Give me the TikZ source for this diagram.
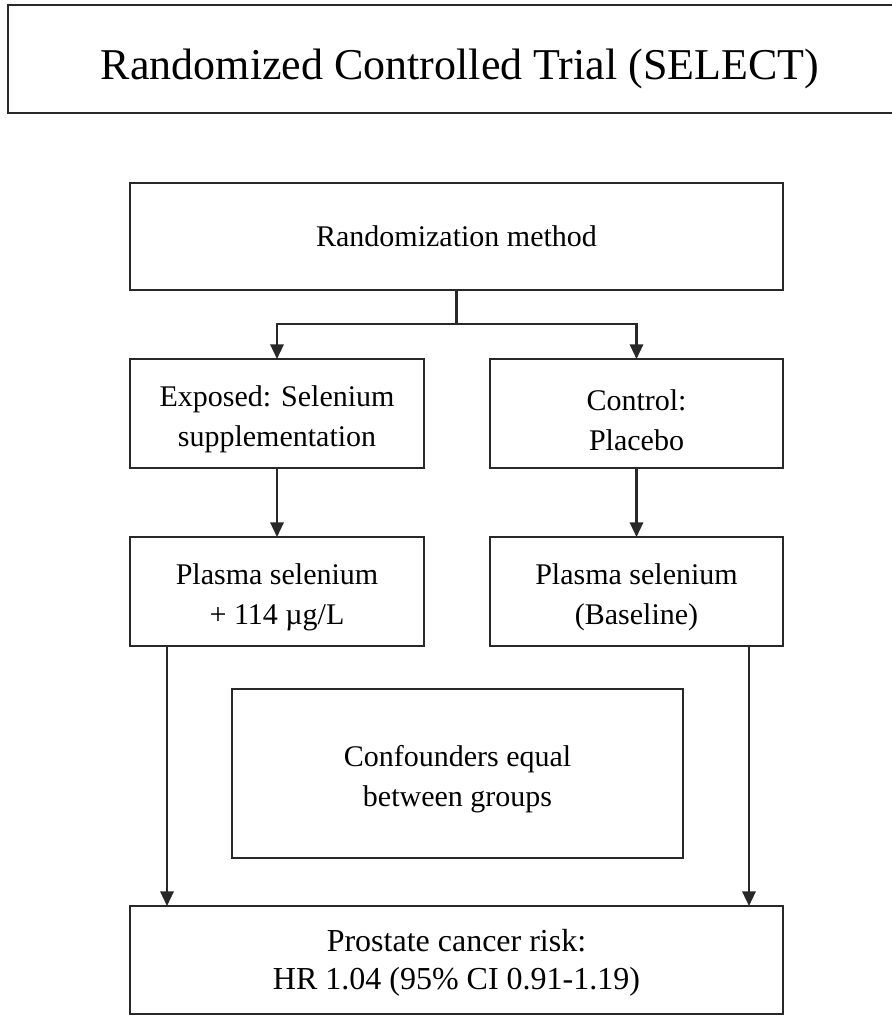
\documentclass[tikz,border=0pt]{standalone}
\usepackage{fontspec}
\setmainfont{Liberation Serif}
\usetikzlibrary{arrows.meta}

\tikzset{every picture/.style={line width=0.75pt}}
\tikzset{
  stepbox/.style={draw={rgb,255:red,40;green,40;blue,40},line width=1.7pt,outer sep=0pt,inner sep=2pt,align=center,
    font=\fontsize{22.5}{30}\selectfont},
  flowarrow/.style={draw={rgb,255:red,40;green,40;blue,40},line width=1.7pt,-{Triangle[length=11pt,width=10pt]}},
}
\newcommand{\lowstrut}[1]{\rule{0pt}{#1}}

\begin{document}
\begin{tikzpicture}[x=0.75pt,y=0.75pt,yscale=-1,xscale=1]
\useasboundingbox (0,0) rectangle (892,1017);

%Shape: Rectangle [title]
\node [stepbox,minimum width=678pt,minimum height=81pt,font=\fontsize{33}{40}\selectfont,line width=1.5pt,text height=31pt,text depth=0pt] (title) at (460,59) {Randomized Controlled Trial (SELECT)};
%Shape: Rectangle [randomization]
\node [stepbox,minimum width=489.75pt,minimum height=80.25pt] (rand) at (456.5,236.5) {Randomization method};
%Shape: Rectangle [exposed]
\node [stepbox,minimum width=220.5pt,minimum height=81.75pt] (expo) at (277,413.5) {\lowstrut{25pt}Exposed: Selenium\\supplementation};
%Shape: Rectangle [control]
\node [stepbox,minimum width=219.75pt,minimum height=81.75pt] (ctrl) at (636.5,413.5) {\lowstrut{25pt}Control:\\Placebo};
%Shape: Rectangle [plasma exposed]
\node [stepbox,minimum width=220.5pt,minimum height=81.75pt] (plasE) at (277,591.5) {\lowstrut{25pt}Plasma selenium\\+ 114 µg/L};
%Shape: Rectangle [plasma control]
\node [stepbox,minimum width=219.75pt,minimum height=81.75pt] (plasC) at (636.5,591.5) {\lowstrut{25pt}Plasma selenium\\(Baseline)};
%Shape: Rectangle [confounders]
\node [stepbox,minimum width=338.25pt,minimum height=126.75pt] (conf) at (457.5,773.5) {\lowstrut{25pt}Confounders equal\\between groups};
%Shape: Rectangle [outcome]
\node [stepbox,minimum width=489.75pt,minimum height=81pt,font=\fontsize{24}{28.5}\selectfont] (risk) at (456.5,960) {\lowstrut{21.5pt}Prostate cancer risk:\\HR 1.04 (95\% CI 0.91-1.19)};

%Straight Lines [split]
\draw [draw={rgb,255:red,40;green,40;blue,40},line width=1.7pt] (rand.south) -- ++(0,34) coordinate (split) ;
\draw [flowarrow] (split) -| (expo.north) ;
\draw [flowarrow] (split) -| (ctrl.north) ;
%Straight Lines [arms]
\draw [flowarrow] (expo.south) -- (plasE.north) ;
\draw [flowarrow] (ctrl.south) -- (plasC.north) ;
%Straight Lines [to outcome]
\draw [flowarrow] ([xshift=27.75pt]plasE.south west) -- ([xshift=27.75pt]plasE.south west |- risk.north) ;
\draw [flowarrow] ([xshift=-25.5pt]plasC.south east) -- ([xshift=-25.5pt]plasC.south east |- risk.north) ;
\end{tikzpicture}
\end{document}
